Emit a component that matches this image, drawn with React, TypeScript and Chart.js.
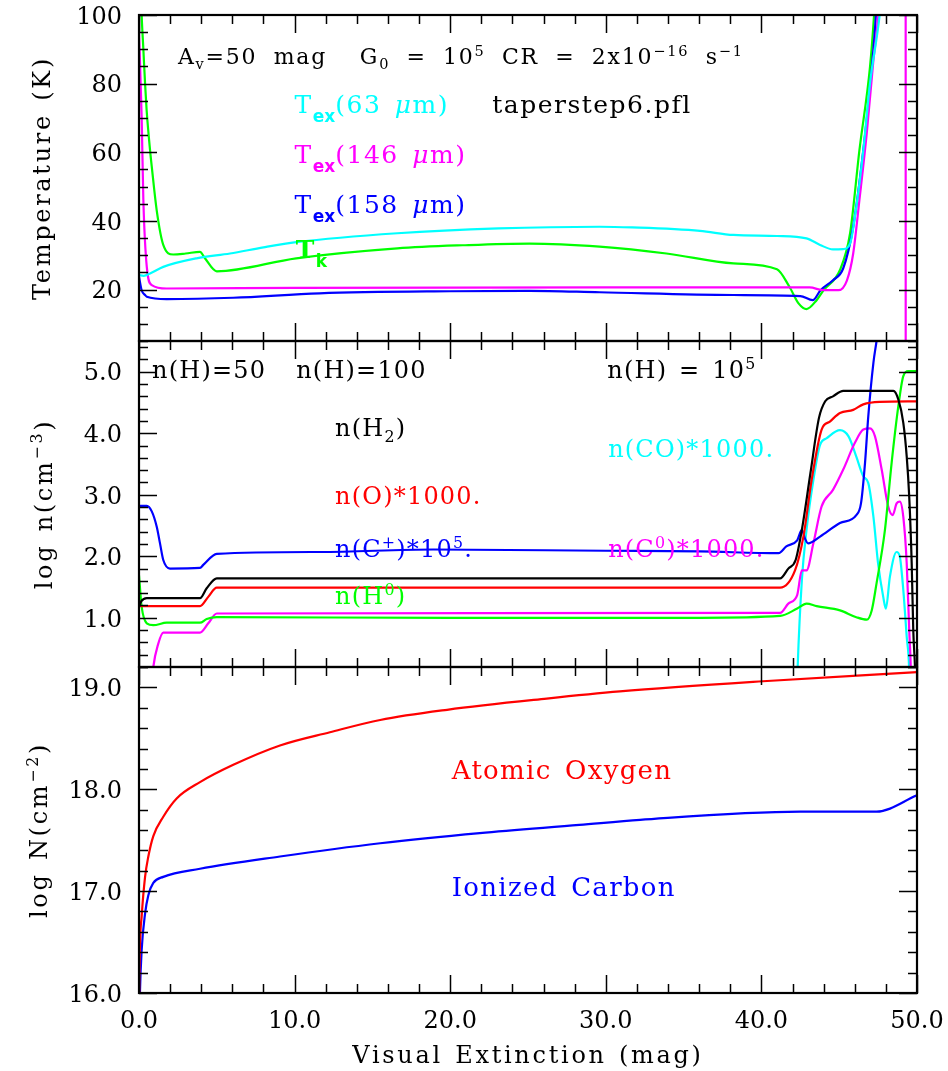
import { useEffect, useRef } from 'react';
import { Chart, registerables } from 'chart.js';

Chart.register(...registerables);

const SERIF = '"DejaVu Serif", serif';
const SANS = '"DejaVu Sans", sans-serif';

const CYAN = '#00ffff';
const MAGENTA = '#ff00ff';
const BLUE = '#0000ff';
const GREEN = '#00ff00';
const RED = '#ff0000';
const BLACK = '#000000';

// Axis tick labels
const AV_TICKS = [0, 10, 20, 30, 40, 50];
const T_TICKS = [20, 40, 60, 80, 100];
const N_TICKS = [1, 2, 3, 4, 5];
const COL_TICKS = [16, 17, 18, 19];

// ---- Temperatures (K) vs visual extinction ----
const TK_AV = [0.0, 0.17, 0.28, 0.39, 0.49, 0.71, 0.82, 1.14, 1.56, 2.2, 3.0, 3.92, 4.24, 5.0, 10.1, 16.6, 20.8, 25.1, 29.6, 33.9, 38.2, 41.0, 41.8, 42.4, 42.9, 43.55, 44.0, 45.05, 45.7, 46.3, 46.98, 47.24, 47.6, 50.0];
const TK_T = [125, 100, 90, 80, 72.3, 60.6, 55.8, 43.0, 33.0, 30.2, 30.5, 31.0, 29.1, 25.3, 29.1, 32.0, 32.9, 33.4, 32.5, 30.5, 27.6, 25.9, 20.8, 15.9, 14.3, 16.9, 19.8, 25.7, 36.4, 60.6, 84.9, 100, 130, 300];

const TEX63_AV = [0.0, 0.3, 0.71, 1.56, 3.7, 5.85, 8.0, 10.1, 16.6, 23.1, 29.6, 31.7, 36.05, 38.2, 41.0, 42.9, 43.77, 44.6, 45.26, 45.7, 46.1, 46.55, 46.98, 47.6, 48.0, 50.0];
const TEX63_T = [24.2, 24.0, 24.7, 26.6, 29.1, 30.5, 32.3, 33.8, 36.4, 37.8, 38.3, 38.1, 37.1, 35.9, 35.6, 34.9, 33.0, 31.7, 31.8, 33.4, 44.1, 60.6, 80.1, 100, 120, 300];

const TEX146_AV = [0.0, 0.17, 0.28, 0.5, 0.82, 1.78, 10.0, 30.0, 43.1, 44.0, 44.95, 45.5, 45.9, 46.3, 46.77, 47.2, 47.5, 47.8, 49.26, 49.28, 50.0];
const TEX146_T = [95.1, 70.4, 46.1, 26.6, 21.3, 20.3, 20.5, 20.6, 20.6, 19.8, 19.8, 22.7, 30.5, 46.1, 65.5, 86.9, 100, 130, 500, -200, -200];

const TEX158_AV = [0.0, 0.17, 0.39, 0.5, 1.78, 6.06, 11.6, 20.0, 25.1, 29.6, 38.2, 42.5, 43.3, 43.8, 44.6, 45.26, 45.9, 46.55, 47.1, 47.36, 47.7, 50.0];
const TEX158_T = [23.7, 19.8, 18.4, 17.9, 17.2, 17.6, 18.9, 19.5, 19.6, 19.2, 18.4, 18.1, 16.9, 19.8, 22.7, 26.2, 38.3, 60.6, 84.9, 100, 130, 300];

// ---- log densities (cm^-3) ----
const H2_AV = [0.0, 0.15, 0.5, 3.92, 4.35, 5.0, 41.2, 41.73, 42.2, 42.6, 43.15, 43.7, 44.1, 44.6, 45.26, 48.48, 48.8, 49.12, 49.34, 49.5, 49.66, 49.76, 49.87, 50.0];
const H2_N = [1.18, 1.27, 1.32, 1.32, 1.48, 1.64, 1.64, 1.80, 1.94, 2.43, 3.35, 4.25, 4.52, 4.60, 4.69, 4.69, 4.55, 4.17, 3.62, 2.97, 1.88, 0.80, 0.2, -1.0];

const O_AV = [0.0, 3.92, 4.45, 5.0, 41.2, 42.16, 42.7, 43.23, 43.87, 44.4, 45.05, 45.9, 46.55, 47.6, 50.0];
const O_N = [1.19, 1.19, 1.34, 1.49, 1.49, 1.77, 2.32, 3.24, 4.06, 4.19, 4.33, 4.38, 4.47, 4.51, 4.52];

const CP_AV = [0.0, 0.5, 0.82, 1.14, 1.35, 1.56, 1.99, 3.92, 4.13, 5.0, 11.6, 18.9, 30.0, 36.05, 41.1, 41.6, 42.3, 42.6, 42.8, 43.0, 43.77, 45.05, 46.1, 46.4, 46.66, 46.87, 47.2, 47.4, 47.6, 50.0];
const CP_N = [2.82, 2.82, 2.73, 2.48, 2.21, 1.94, 1.80, 1.81, 1.86, 2.04, 2.07, 2.11, 2.09, 2.08, 2.05, 2.16, 2.26, 2.43, 2.29, 2.21, 2.32, 2.54, 2.67, 2.86, 3.52, 4.28, 5.15, 5.5, 5.9, 9.0];

const H0_AV = [0.0, 0.17, 0.5, 0.92, 1.78, 3.92, 4.35, 5.0, 20.0, 36.05, 41.2, 42.3, 42.9, 43.55, 45.05, 46.1, 46.77, 47.09, 47.4, 47.94, 48.37, 48.8, 49.12, 49.44, 50.0];
const H0_N = [1.69, 1.18, 0.91, 0.88, 0.92, 0.92, 0.98, 1.01, 1.00, 1.00, 1.03, 1.15, 1.23, 1.19, 1.12, 1.01, 0.97, 1.12, 1.56, 2.43, 3.52, 4.44, 4.93, 5.01, 5.01];

const C0_AV = [0.85, 0.92, 1.24, 1.56, 3.92, 4.45, 5.0, 41.2, 41.73, 42.3, 42.6, 42.9, 43.34, 43.87, 44.6, 45.26, 46.0, 46.55, 46.98, 47.3, 47.73, 48.15, 48.44, 48.69, 48.9, 49.12, 49.34, 49.5, 49.6, 49.7];
const C0_N = [0.0, 0.2, 0.58, 0.76, 0.76, 0.91, 1.07, 1.08, 1.23, 1.37, 1.77, 1.77, 2.21, 2.81, 3.08, 3.41, 3.84, 4.06, 4.08, 3.95, 3.41, 2.81, 2.67, 2.86, 2.89, 2.64, 1.88, 0.80, 0.2, -1.0];

const CO_AV = [42.25, 42.33, 42.6, 42.9, 43.34, 43.77, 44.2, 45.05, 45.6, 46.1, 46.55, 46.87, 47.2, 47.5, 47.83, 48.0, 48.26, 48.69, 48.9, 49.12, 49.34, 49.49, 49.6];
const CO_N = [-0.5, 0.2, 1.61, 2.43, 3.24, 3.81, 3.92, 4.05, 3.95, 3.62, 3.30, 3.19, 2.64, 1.88, 1.34, 1.15, 1.67, 2.07, 1.99, 1.45, 0.69, 0.2, -1.0];

// ---- log column densities (cm^-2) ----
const OCOL_AV = [0.0, 0.02, 0.17, 0.39, 0.6, 0.92, 1.56, 2.42, 3.92, 6.06, 9.06, 12.27, 15.5, 19.8, 26.2, 30.9, 40.1, 50.0];
const OCOL_N = [15.5, 16.1, 16.75, 17.14, 17.34, 17.54, 17.73, 17.91, 18.07, 18.24, 18.43, 18.56, 18.68, 18.78, 18.89, 18.96, 19.06, 19.15];

const CPCOL_AV = [0.0, 0.06, 0.17, 0.39, 0.6, 0.92, 1.56, 3.92, 9.06, 15.5, 21.9, 28.3, 32.2, 42.5, 47.4, 50.0];
const CPCOL_N = [15.5, 16.0, 16.42, 16.78, 16.96, 17.08, 17.14, 17.22, 17.34, 17.47, 17.57, 17.65, 17.70, 17.78, 17.78, 17.94];

const zip = (xs: number[], ys: number[]) => xs.map((x, i) => ({ x, y: ys[i] }));

// ---- rich text (sub/superscripts) ----
type Seg = { t: string; pos?: 'sup' | 'sub' | 'tag'; it?: boolean; b?: boolean };
const r = (t: string): Seg => ({ t });
const sup = (t: string): Seg => ({ t, pos: 'sup' });
const sub = (t: string): Seg => ({ t, pos: 'sub' });
const tag = (t: string): Seg => ({ t, pos: 'tag' });
const it = (t: string): Seg => ({ t, it: true });
const bd = (t: string): Seg => ({ t, b: true });

type TextStyle = { size: number; ls: number; ws: number; color: string };

function segFont(s: Seg, size: number) {
  if (s.pos === 'tag') return `bold ${Math.round(size * 0.66)}px ${SANS}`;
  const fs = s.pos ? size * 0.66 : size;
  return `${s.it ? 'italic ' : ''}${s.b ? 'bold ' : ''}${fs}px ${SERIF}`;
}
function segDy(s: Seg, size: number) {
  if (s.pos === 'sup') return -0.38 * size;
  if (s.pos === 'sub') return 0.24 * size;
  if (s.pos === 'tag') return 0.36 * size;
  return 0;
}
function segAdvance(ctx: CanvasRenderingContext2D, s: Seg, st: TextStyle) {
  ctx.font = segFont(s, st.size);
  (ctx as any).letterSpacing = '0px';
  (ctx as any).wordSpacing = '0px';
  const spaces = (s.t.match(/ /g) || []).length;
  const ls = s.pos === 'tag' ? 0 : st.ls;
  return ctx.measureText(s.t).width + ls * [...s.t].length + st.ws * spaces;
}
function richWidth(ctx: CanvasRenderingContext2D, segs: Seg[], st: TextStyle) {
  return segs.reduce((w, s) => w + segAdvance(ctx, s, st), 0);
}
function drawRich(ctx: CanvasRenderingContext2D, segs: Seg[], x: number, y: number, st: TextStyle) {
  let cx = x;
  ctx.fillStyle = st.color;
  ctx.textAlign = 'left';
  ctx.textBaseline = 'alphabetic';
  for (const s of segs) {
    const adv = segAdvance(ctx, s, st);
    ctx.font = segFont(s, st.size);
    (ctx as any).letterSpacing = `${s.pos === 'tag' ? 0 : st.ls}px`;
    (ctx as any).wordSpacing = `${st.ws}px`;
    ctx.fillText(s.t, cx, y + segDy(s, st.size));
    cx += adv;
  }
  (ctx as any).letterSpacing = '0px';
  (ctx as any).wordSpacing = '0px';
}

const HEAD: TextStyle = { size: 22, ls: 1.8, ws: 7.5, color: BLACK };
const T_STYLE = (color: string): TextStyle => ({ size: 25, ls: 1.5, ws: 4, color });
const N_STYLE = (color: string): TextStyle => ({ size: 24, ls: 1.2, ws: 3, color });
const COL_STYLE = (color: string): TextStyle => ({ size: 26, ls: 1.3, ws: 4, color });

type Note = { axis: string; x: number; y: number; segs: Seg[]; st: TextStyle };
const NOTES: Note[] = [
  { axis: 'yT', x: 2.5, y: 85.7, st: HEAD, segs: [r('A'), sub('v'), r('=50 mag  G'), sub('0'), r(' = 10'), sup('5'), r(' CR = 2x10'), sup('−16'), r(' s'), sup('−1')] },
  { axis: 'yT', x: 10.0, y: 71.4, st: T_STYLE(CYAN), segs: [r('T'), tag('ex'), r('(63 '), it('μ'), r('m)')] },
  { axis: 'yT', x: 22.7, y: 71.4, st: T_STYLE(BLACK), segs: [r('taperstep6.pfl')] },
  { axis: 'yT', x: 10.0, y: 56.9, st: T_STYLE(MAGENTA), segs: [r('T'), tag('ex'), r('(146 '), it('μ'), r('m)')] },
  { axis: 'yT', x: 10.0, y: 42.3, st: T_STYLE(BLUE), segs: [r('T'), tag('ex'), r('(158 '), it('μ'), r('m)')] },
  { axis: 'yT', x: 10.07, y: 29.2, st: T_STYLE(GREEN), segs: [bd('T'), tag('k')] },
  { axis: 'yN', x: 0.84, y: 4.9, st: N_STYLE(BLACK), segs: [r('n(H)=50')] },
  { axis: 'yN', x: 10.1, y: 4.9, st: N_STYLE(BLACK), segs: [r('n(H)=100')] },
  { axis: 'yN', x: 30.1, y: 4.9, st: N_STYLE(BLACK), segs: [r('n(H) = 10'), sup('5')] },
  { axis: 'yN', x: 12.6, y: 3.95, st: N_STYLE(BLACK), segs: [r('n(H'), sub('2'), r(')')] },
  { axis: 'yN', x: 30.15, y: 3.62, st: N_STYLE(CYAN), segs: [r('n(CO)*1000.')] },
  { axis: 'yN', x: 12.6, y: 2.85, st: N_STYLE(RED), segs: [r('n(O)*1000.')] },
  { axis: 'yN', x: 12.6, y: 1.99, st: N_STYLE(BLUE), segs: [r('n(C'), sup('+'), r(')*10'), sup('5'), r('.')] },
  { axis: 'yN', x: 30.15, y: 1.99, st: N_STYLE(MAGENTA), segs: [r('n(C'), sup('0'), r(')*1000.')] },
  { axis: 'yN', x: 12.6, y: 1.23, st: N_STYLE(GREEN), segs: [r('n(H'), sup('0'), r(')')] },
  { axis: 'yC', x: 20.1, y: 18.1, st: COL_STYLE(RED), segs: [r('Atomic Oxygen')] },
  { axis: 'yC', x: 20.1, y: 16.95, st: COL_STYLE(BLUE), segs: [r('Ionized Carbon')] },
];

const TITLE_STYLE: TextStyle = { size: 24, ls: 2.7, ws: 2, color: BLACK };
const Y_TITLES: { axis: string; base: number; segs: Seg[] }[] = [
  { axis: 'yT', base: 50, segs: [r('Temperature (K)')] },
  { axis: 'yN', base: 51.5, segs: [r('log n(cm'), sup('−3'), r(')')] },
  { axis: 'yC', base: 47, segs: [r('log N(cm'), sup('−2'), r(')')] },
];
const X_TITLE: Seg[] = [r('Visual Extinction (mag)')];

// Inward tick marks on every side of each panel
const PANELS = [
  { axis: 'yT', majors: T_TICKS, step: 5 },
  { axis: 'yN', majors: N_TICKS, step: 0.2 },
  { axis: 'yC', majors: COL_TICKS, step: 0.2 },
];
const MAJOR_LEN = 18;
const MINOR_LEN = 9;

const panelPlugin = {
  id: 'panelFrames',
  beforeDatasetDraw(chart: any, args: any) {
    const ys = args.meta.yScale;
    const a = chart.chartArea;
    const ctx = chart.ctx as CanvasRenderingContext2D;
    ctx.save();
    ctx.beginPath();
    ctx.rect(a.left, ys.top, a.right - a.left, ys.bottom - ys.top);
    ctx.clip();
  },
  afterDatasetDraw(chart: any) {
    chart.ctx.restore();
  },
  afterDraw(chart: any) {
    const ctx = chart.ctx as CanvasRenderingContext2D;
    const a = chart.chartArea;
    const xs = chart.scales.x;
    ctx.save();
    ctx.strokeStyle = BLACK;
    for (const p of PANELS) {
      const ys = chart.scales[p.axis];
      const top = ys.top, bottom = ys.bottom;
      ctx.lineWidth = 1.5;
      ctx.beginPath();
      for (let v = 0; v <= 50; v += 2) {
        const px = Math.round(xs.getPixelForValue(v)) + 0.5;
        const len = v % 10 === 0 ? MAJOR_LEN : MINOR_LEN;
        ctx.moveTo(px, bottom); ctx.lineTo(px, bottom - len);
        ctx.moveTo(px, top); ctx.lineTo(px, top + len);
      }
      const n = Math.floor((ys.max - ys.min) / p.step + 1e-6);
      for (let i = 0; i <= n; i++) {
        const v = ys.min + i * p.step;
        const py = Math.round(ys.getPixelForValue(v)) + 0.5;
        const major = p.majors.some((m: number) => Math.abs(m - v) < 1e-6);
        const len = major ? MAJOR_LEN : MINOR_LEN;
        ctx.moveTo(a.left, py); ctx.lineTo(a.left + len, py);
        ctx.moveTo(a.right, py); ctx.lineTo(a.right - len, py);
      }
      ctx.stroke();
      ctx.lineWidth = 2.2;
      ctx.strokeRect(a.left, top, a.right - a.left, bottom - top);
    }

    for (const note of NOTES) {
      const ys = chart.scales[note.axis];
      drawRich(ctx, note.segs, xs.getPixelForValue(note.x), ys.getPixelForValue(note.y), note.st);
    }

    for (const t of Y_TITLES) {
      const ys = chart.scales[t.axis];
      const w = richWidth(ctx, t.segs, TITLE_STYLE);
      ctx.save();
      ctx.translate(t.base, (ys.top + ys.bottom) / 2);
      ctx.rotate(-Math.PI / 2);
      drawRich(ctx, t.segs, -w / 2, 0, TITLE_STYLE);
      ctx.restore();
    }

    const wx = richWidth(ctx, X_TITLE, TITLE_STYLE);
    drawRich(ctx, X_TITLE, (a.left + a.right) / 2 - wx / 2, xs.bottom - 8, TITLE_STYLE);
    ctx.restore();
  },
};

// Tick-label overhang is left to the fixed layout padding
const noOverhang = (s: any) => {
  s.paddingTop = 0;
  s.paddingBottom = 0;
  s.paddingLeft = 0;
  s.paddingRight = 0;
};

function panelScale(min: number, max: number, ticks: number[], weight: number, digits: number) {
  return {
    type: 'linear',
    position: 'left',
    stack: 'panels',
    stackWeight: 1,
    weight,
    min,
    max,
    grid: { display: false, drawTicks: false },
    border: { display: false },
    ticks: {
      font: { family: SERIF, size: 24 },
      color: BLACK,
      padding: 17,
      labelOffset: 2.5,
      callback: (v: any) => Number(v).toFixed(digits),
    },
    afterBuildTicks: (s: any) => { s.ticks = ticks.map((v) => ({ value: v })); },
    afterFit: (s: any) => { s.width = 139; noOverhang(s); },
  };
}

const line = (data: { x: number; y: number }[], color: string, yAxisID: string) => ({
  data,
  yAxisID,
  xAxisID: 'x',
  borderColor: color,
  backgroundColor: color,
  borderWidth: 2.2,
  pointRadius: 0,
  fill: false,
  cubicInterpolationMode: 'monotone',
});

export default function App() {
  const ref = useRef<HTMLCanvasElement>(null);

  useEffect(() => {
    const canvas = ref.current;
    if (!canvas) return;
    const chart = new Chart(canvas, {
      type: 'line',
      data: {
        datasets: [
          line(zip(TEX63_AV, TEX63_T), CYAN, 'yT'),
          line(zip(TEX146_AV, TEX146_T), MAGENTA, 'yT'),
          line(zip(TEX158_AV, TEX158_T), BLUE, 'yT'),
          line(zip(TK_AV, TK_T), GREEN, 'yT'),
          line(zip(H2_AV, H2_N), BLACK, 'yN'),
          line(zip(O_AV, O_N), RED, 'yN'),
          line(zip(CP_AV, CP_N), BLUE, 'yN'),
          line(zip(H0_AV, H0_N), GREEN, 'yN'),
          line(zip(C0_AV, C0_N), MAGENTA, 'yN'),
          line(zip(CO_AV, CO_N), CYAN, 'yN'),
          line(zip(OCOL_AV, OCOL_N), RED, 'yC'),
          line(zip(CPCOL_AV, CPCOL_N), BLUE, 'yC'),
        ] as any,
      },
      options: {
        animation: false,
        responsive: false,
        devicePixelRatio: 1,
        events: [],
        layout: { padding: { left: 0, top: 15, right: 31, bottom: 0 } },
        plugins: { legend: { display: false }, tooltip: { enabled: false } },
        scales: {
          x: {
            type: 'linear',
            position: 'bottom',
            min: 0,
            max: 50,
            grid: { display: false, drawTicks: false },
            border: { display: false },
            ticks: {
              font: { family: SERIF, size: 24 },
              color: BLACK,
              padding: 14,
              autoSkip: false,
              maxRotation: 0,
              callback: (v: any) => Number(v).toFixed(1),
            },
            afterBuildTicks: (s: any) => { s.ticks = AV_TICKS.map((v) => ({ value: v })); },
            afterFit: (s: any) => { s.height = 78; noOverhang(s); },
          },
          yT: panelScale(5, 100, T_TICKS, 3, 0),
          yN: panelScale(0.2, 5.5, N_TICKS, 2, 1),
          yC: panelScale(16, 19.2, COL_TICKS, 1, 1),
        } as any,
      },
      plugins: [panelPlugin],
    });
    return () => chart.destroy();
  }, []);

  return (
    <div style={{ position: 'fixed', left: 0, top: 0, width: 948, height: 1071, background: '#ffffff' }}>
      <canvas ref={ref} width={948} height={1071} style={{ display: 'block', width: 948, height: 1071 }} />
    </div>
  );
}
